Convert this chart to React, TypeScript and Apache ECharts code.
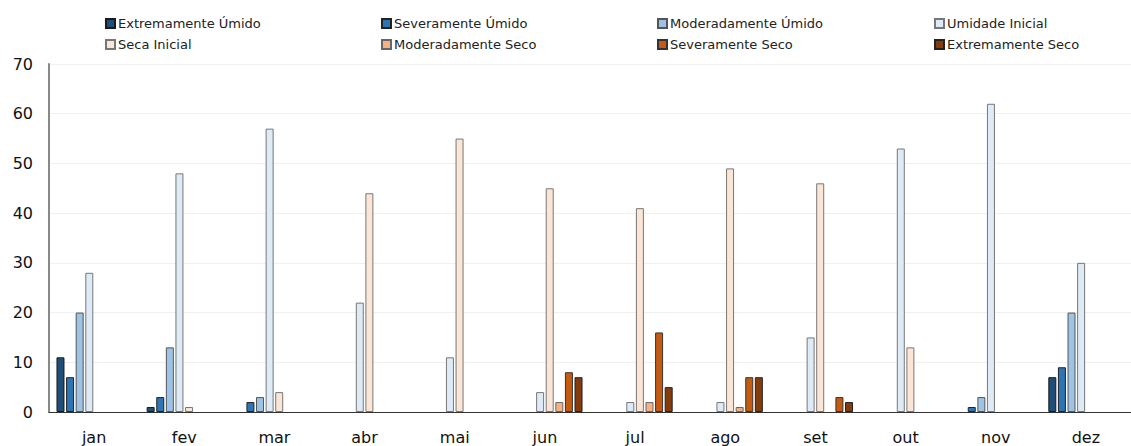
import React, { useEffect, useRef } from "react";
import * as echarts from "echarts";

const months = ["jan", "fev", "mar", "abr", "mai", "jun", "jul", "ago", "set", "out", "nov", "dez"];
const seriesNames = [
  "Extremamente Úmido",
  "Severamente Úmido",
  "Moderadamente Úmido",
  "Umidade Inicial",
  "Seca Inicial",
  "Moderadamente Seco",
  "Severamente Seco",
  "Extremamente Seco",
];
const extremamenteUmido = [11, 1, 0, 0, 0, 0, 0, 0, 0, 0, 0, 7];
const severamenteUmido = [7, 3, 2, 0, 0, 0, 0, 0, 0, 0, 1, 9];
const moderadamenteUmido = [20, 13, 3, 0, 0, 0, 0, 0, 0, 0, 3, 20];
const umidadeInicial = [28, 48, 57, 22, 11, 4, 2, 2, 15, 53, 62, 30];
const secaInicial = [0, 1, 4, 44, 55, 45, 41, 49, 46, 13, 0, 0];
const moderadamenteSeco = [0, 0, 0, 0, 0, 2, 2, 1, 0, 0, 0, 0];
const severamenteSeco = [0, 0, 0, 0, 0, 8, 16, 7, 3, 0, 0, 0];
const extremamenteSeco = [0, 0, 0, 0, 0, 7, 5, 7, 2, 0, 0, 0];
const yTicks = [0, 10, 20, 30, 40, 50, 60, 70];

const allData = [
  extremamenteUmido,
  severamenteUmido,
  moderadamenteUmido,
  umidadeInicial,
  secaInicial,
  moderadamenteSeco,
  severamenteSeco,
  extremamenteSeco,
];
const colors = ["#1f4e79", "#2e75b6", "#9dc3e6", "#deebf7", "#fbe5d6", "#f4b183", "#c55a11", "#843c0c"];
const borders = ["#1a1a1a", "#222", "#555", "#777", "#777", "#666", "#333", "#222"];

const legendCols = [105, 381, 657, 934];
const legendRows = [17, 38];

export default function App() {
  const ref = useRef<HTMLDivElement>(null);
  useEffect(() => {
    if (!ref.current) return;
    const chart = echarts.init(ref.current, null, { renderer: "svg" });
    const font = "'DejaVu Sans', sans-serif";
    chart.setOption({
      animation: false,
      textStyle: { fontFamily: font },
      legend: seriesNames.map((n, i) => ({
        data: [n],
        left: legendCols[i % 4],
        top: legendRows[Math.floor(i / 4)],
        orient: "horizontal",
        itemWidth: 9,
        itemHeight: 9,
        itemGap: 0,
        padding: 0,
        icon: "rect",
        selectedMode: false,
        textStyle: { fontSize: 13, color: "#222", fontFamily: font, padding: [0, 0, 0, -2] },
      })),
      grid: { left: 49, right: -11, top: 64, bottom: 34 },
      xAxis: {
        type: "category",
        data: months,
        axisLine: { show: true, lineStyle: { color: "#333", width: 1 } },
        axisTick: { show: false },
        axisLabel: { fontSize: 16, color: "#111", margin: 17, fontFamily: font },
      },
      yAxis: {
        type: "value",
        min: yTicks[0],
        max: yTicks[yTicks.length - 1],
        interval: 10,
        axisLine: { show: true, lineStyle: { color: "#888", width: 2 } },
        axisTick: { show: false },
        splitLine: { show: true, lineStyle: { color: "#f0f0f0", width: 1 } },
        axisLabel: { fontSize: 16, color: "#111", margin: 16, fontFamily: font },
      },
      series: seriesNames.map((n, i) => ({
        name: n,
        type: "bar",
        data: allData[i].map((v) => (v === 0 ? null : v)),
        barWidth: 8,
        barGap: "20%",
        itemStyle: { color: colors[i], borderColor: borders[i], borderWidth: 1 },
      })),
    });
    return () => chart.dispose();
  }, []);
  return (
    <div
      ref={ref}
      style={{ position: "absolute", left: 0, top: 0, width: 1131, height: 446 }}
    />
  );
}
